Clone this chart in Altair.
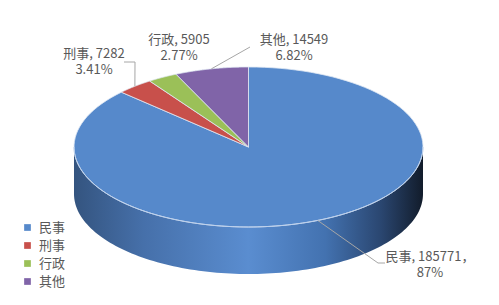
import altair as alt
import pandas as pd
import numpy as np

# ---------------- data ----------------
categories = ["民事", "刑事", "行政", "其他"]
counts = [185771, 7282, 5905, 14549]
value_text = ["185771，", "7282", "5905", "14549"]
pct_text = ["87%", "3.41%", "2.77%", "6.82%"]

# ---------------- styling / layout ----------------
colors = ["#5689CB", "#C8504B", "#9BC058", "#8064A8"]
FONT = "Noto Sans CJK SC"
TEXT_COLOR = "#595959"
W, H = 499, 305
PX = 174.5            # pixels per unit radius
CX, CY = 248.5, 147   # pie centre in pixels
TILT = 80 / PX        # vertical squash of top face
DEPTH = 47 / PX       # thickness of the pie
N = 120               # samples per arc

xs = alt.Scale(domain=[(0 - CX) / PX, (W - CX) / PX], nice=False, zero=False)
ys = alt.Scale(domain=[(CY - H) / PX, CY / PX], nice=False, zero=False)

# label centres (pixels) and leader waypoints relative to label centre (pixels)
label_pos = {"民事": (430, 265), "刑事": (94, 62), "行政": (179, 48), "其他": (294, 48)}
leader_offsets = {
    "民事": [(-52, -2), (-45, -2)],
    "刑事": [(41, 0), (30, 0)],
    "其他": [(-44, -1)],
}

# ---------------- top-face wedges ----------------
wedge_df = pd.DataFrame({"cat": categories, "n": counts, "idx": list(range(len(categories)))})
wedge_df["step"] = [list(range(-1, N + 2)) for _ in categories]

wedges = (
    alt.Chart(wedge_df)
    .transform_joinaggregate(total="sum(n)")
    .transform_window(cum="sum(n)", sort=[alt.SortField("idx")], frame=[None, 0])
    .transform_calculate(
        a0="2*PI*(datum.cum-datum.n)/datum.total",
        a1="2*PI*datum.cum/datum.total",
    )
    .transform_flatten(["step"])
    .transform_calculate(a=f"datum.a0+(datum.a1-datum.a0)*clamp(datum.step,0,{N})/{N}")
    .transform_calculate(
        px=f"(datum.step<0||datum.step>{N})?0:sin(datum.a)",
        py=f"(datum.step<0||datum.step>{N})?0:{TILT}*cos(datum.a)",
    )
    .mark_line(filled=True, stroke="#dfe8f4", strokeWidth=0.8, strokeJoin="round")
    .encode(
        x=alt.X("px:Q", scale=xs, axis=None),
        y=alt.Y("py:Q", scale=ys, axis=None),
        color=alt.Color(
            "cat:N",
            scale=alt.Scale(domain=categories, range=colors),
            sort=categories,
            legend=alt.Legend(
                title=None, orient="none", legendX=21, legendY=221,
                symbolType="square", symbolSize=45, symbolStrokeWidth=0,
                labelFont=FONT, labelFontSize=13, labelColor=TEXT_COLOR,
                rowPadding=4, padding=0, labelOffset=5,
            ),
        ),
        order="step:Q",
        detail="cat:N",
    )
)

# ---------------- side band (front) ----------------
side_df = pd.DataFrame({"s": list(range(0, 2 * N + 2))})
side_grad = alt.LinearGradient(
    gradient="linear",
    x1=0, x2=1, y1=0, y2=0,
    stops=[
        alt.GradientStop(offset=0.0, color="#34547f"),
        alt.GradientStop(offset=0.2, color="#4670aa"),
        alt.GradientStop(offset=0.5, color="#5a8dd0"),
        alt.GradientStop(offset=0.72, color="#4372b0"),
        alt.GradientStop(offset=0.88, color="#2a4670"),
        alt.GradientStop(offset=1.0, color="#121c2b"),
    ],
)
side = (
    alt.Chart(side_df)
    .transform_calculate(
        a=f"datum.s<={N} ? PI/2 + PI*datum.s/{N} : 3*PI/2 - PI*(datum.s-{N}-1)/{N}"
    )
    .transform_calculate(
        px="sin(datum.a)",
        py=f"{TILT}*cos(datum.a) - (datum.s>{N} ? {DEPTH} : 0)",
    )
    .mark_line(filled=True, fill=side_grad)
    .encode(
        x=alt.X("px:Q", scale=xs, axis=None),
        y=alt.Y("py:Q", scale=ys, axis=None),
        order="s:Q",
    )
)

# rim highlight along the front edge of the top face
rim_df = pd.DataFrame({"s": list(range(0, N + 1))})
rim = (
    alt.Chart(rim_df)
    .transform_calculate(a=f"PI/2 + PI*datum.s/{N}")
    .transform_calculate(px="sin(datum.a)", py=f"{TILT}*cos(datum.a)")
    .mark_line(stroke="#bcd0ec", strokeWidth=1)
    .encode(
        x=alt.X("px:Q", scale=xs, axis=None),
        y=alt.Y("py:Q", scale=ys, axis=None),
        order="s:Q",
    )
)

# ---------------- labels (two lines each) ----------------
lab_rows = []
for c, v, p in zip(categories, value_text, pct_text):
    lx, ly = label_pos[c]
    lab_rows.append({"cat": c, "line1": f"{c}, {v}", "line2": p,
                     "lx": (lx - CX) / PX, "ly": (CY - ly) / PX})
lab_df = pd.DataFrame(lab_rows)
lab_base = alt.Chart(lab_df).encode(
    x=alt.X("lx:Q", scale=xs, axis=None),
    y=alt.Y("ly:Q", scale=ys, axis=None),
)
labels1 = lab_base.mark_text(font=FONT, fontSize=13, color=TEXT_COLOR, align="center",
                             baseline="middle", dy=-8).encode(text="line1:N")
labels2 = lab_base.mark_text(font=FONT, fontSize=13, color=TEXT_COLOR, align="center",
                             baseline="middle", dy=8).encode(text="line2:N")

# ---------------- leader lines ----------------
total = float(sum(counts))
cum = np.cumsum(counts)
mid = (cum - np.array(counts) / 2.0) / total * 2 * np.pi
lead_rows = []
for i, c in enumerate(categories):
    if c not in leader_offsets:
        continue
    lead_rows.append({"cat": c, "k": 0, "lx": float(np.sin(mid[i])), "ly": float(TILT * np.cos(mid[i]))})
    lx, ly = label_pos[c]
    for k, (dx, dy) in enumerate(leader_offsets[c], start=1):
        lead_rows.append({"cat": c, "k": k, "lx": (lx + dx - CX) / PX, "ly": (CY - (ly + dy)) / PX})
lead_df = pd.DataFrame(lead_rows)
leaders = (
    alt.Chart(lead_df)
    .mark_line(stroke="#a6a6a6", strokeWidth=1)
    .encode(
        x=alt.X("lx:Q", scale=xs, axis=None),
        y=alt.Y("ly:Q", scale=ys, axis=None),
        order="k:Q",
        detail="cat:N",
    )
)

chart = (
    alt.layer(side, wedges, rim, leaders, labels1, labels2)
    .resolve_scale(color="independent")
    .properties(width=W, height=H, padding=0, autosize="none", background="white")
    .configure_view(stroke=None)
)

chart.save("out.html", embed_options={"renderer": "svg", "actions": False})
